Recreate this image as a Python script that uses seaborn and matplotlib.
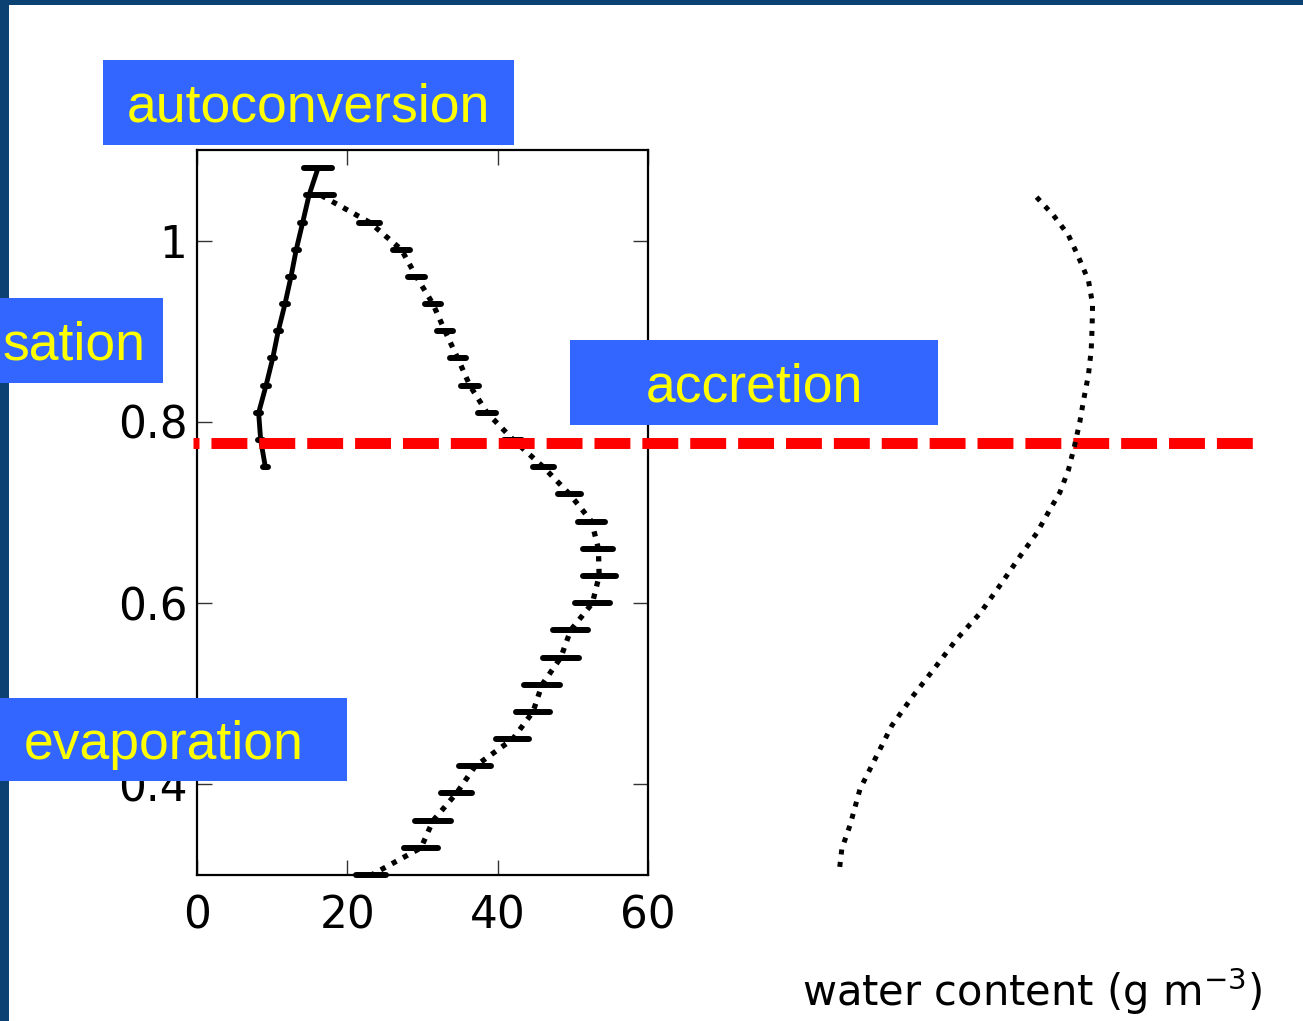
import matplotlib
matplotlib.use("Agg")
import matplotlib.pyplot as plt
from matplotlib.patches import Rectangle
import numpy as np
import pandas as pd
import seaborn as sns

# ---------------- data ----------------
# solid profile (height in km, value)
solid_height = [1.08, 1.05, 1.02, 0.99, 0.96, 0.93, 0.90, 0.87, 0.84, 0.81, 0.78, 0.75]
solid_value = [16.1, 14.9, 14.06, 13.2, 12.5, 11.7, 10.8, 10.07, 9.18, 8.2, 8.47, 9.1]
solid_err = [1.85, 0.35, 0.35, 0.35, 0.35, 0.35, 0.35, 0.35, 0.35, 0.35, 0.35, 0.35]

# dotted profile
dotted_height = [1.05, 1.02, 0.99, 0.96, 0.93, 0.90, 0.87, 0.84, 0.81, 0.78, 0.75,
                 0.72, 0.69, 0.66, 0.63, 0.60, 0.57, 0.54, 0.51, 0.48, 0.45, 0.42,
                 0.39, 0.36, 0.33, 0.30]
dotted_value = [16.5, 23.0, 27.2, 29.2, 31.4, 33.0, 34.7, 36.3, 38.6, 42.1, 46.1,
                49.6, 52.5, 53.4, 53.5, 52.6, 49.7, 48.4, 45.9, 44.7, 42.0, 37.0,
                34.5, 31.4, 29.8, 23.2]
dotted_err = [1.7, 1.4, 1.1, 1.1, 1.05, 1.1, 1.05, 1.2, 1.2, 1.2, 1.45,
              1.55, 1.8, 2.0, 2.2, 2.3, 2.3, 2.4, 2.4, 2.2, 2.2, 2.15,
              2.1, 2.4, 2.26, 2.0]

# water content profile (g m^-3)
wc_height = [1.048, 1.028, 1.006, 0.982, 0.956, 0.930, 0.904, 0.879, 0.852, 0.826,
             0.800, 0.775, 0.747, 0.722, 0.703, 0.677, 0.652, 0.622, 0.589, 0.560,
             0.529, 0.498, 0.465, 0.428, 0.395, 0.355, 0.329, 0.303]
wc_value = [0.509, 0.546, 0.579, 0.601, 0.623, 0.632, 0.631, 0.629, 0.623, 0.613,
            0.604, 0.593, 0.579, 0.560, 0.538, 0.509, 0.473, 0.432, 0.385, 0.333,
            0.286, 0.238, 0.191, 0.154, 0.121, 0.099, 0.081, 0.075]

cloud_base = 0.777

x_ticks = [0, 20, 40, 60]
x_ticklabels = ["0", "20", "40", "60"]
y_ticks = [0.4, 0.6, 0.8, 1.0]
y_ticklabels = ["0.4", "0.6", "0.8", "1"]

labels = ["autoconversion", "sation", "accretion", "evaporation"]
axis_label = "water content (g m$^{-3}$)"

# ---------------- figure ----------------
sns.set_theme(style="ticks")
plt.rcParams["font.family"] = ["DejaVu Sans"]
plt.rcParams["mathtext.fontset"] = "dejavusans"

W, H = 1303, 1021
fig = plt.figure(figsize=(W / 100, H / 100), dpi=100)
fig.patch.set_facecolor("white")

def fx(px):
    return px / W

def fy(py):
    return 1 - py / H

ax = fig.add_axes([fx(197), fy(875), fx(648) - fx(197), fy(150) - fy(875)])
ax2 = fig.add_axes([fx(805), fy(875), fx(1260) - fx(805), fy(150) - fy(875)])

df_s = pd.DataFrame({"h": solid_height, "v": solid_value})
df_d = pd.DataFrame({"h": dotted_height, "v": dotted_value})
df_w = pd.DataFrame({"h": wc_height, "v": wc_value})

sns.lineplot(data=df_s, x="v", y="h", sort=False, estimator=None, ax=ax,
             color="black", lw=3.5, linestyle="-")
sns.lineplot(data=df_d, x="v", y="h", sort=False, estimator=None, ax=ax,
             color="black", lw=3.8, linestyle=(0, (1, 1.4)))

for v, h, e in [(solid_value, solid_height, solid_err), (dotted_value, dotted_height, dotted_err)]:
    eb = ax.errorbar(v, h, xerr=e, fmt="none", ecolor="black", elinewidth=4.3,
                     capsize=0, clip_on=False)
    for lc in eb.lines[2]:
        lc.set_capstyle("round")
        lc.set_clip_on(False)

ax.axhline(cloud_base, xmin=(193 - 197) / 451, xmax=(1255 - 197) / 451,
           color="#ff0000", lw=7.9, linestyle=(30 / 11, (36 / 11, 12 / 11)),
           clip_on=False, zorder=5)

ax.set_xlim(0, 60)
ax.set_ylim(0.3, 1.1)
ax.set_xticks(x_ticks)
ax.set_xticklabels(x_ticklabels)
ax.set_yticks(y_ticks)
ax.set_yticklabels(y_ticklabels)
ax.set_xlabel("")
ax.set_ylabel("")
ax.tick_params(axis="both", direction="in", length=11, width=1.0, color="#333333",
               labelsize=31.5, top=True, right=True, labelcolor="black")
ax.tick_params(axis="x", pad=14)
ax.tick_params(axis="y", pad=7)
for sp in ax.spines.values():
    sp.set_visible(True)
    sp.set_linewidth(1.6)
    sp.set_color("black")

sns.lineplot(data=df_w, x="v", y="h", sort=False, estimator=None, ax=ax2,
             color="black", lw=3.6, linestyle=(0, (1, 1.5)))
ax2.set_xlim(0, 1)
ax2.set_ylim(0.3, 1.1)
ax2.axis("off")

# border
fig.patches.append(Rectangle((0, 0), fx(9), 1, transform=fig.transFigure,
                             facecolor="#0c4273", edgecolor="none", zorder=0.5))
fig.patches.append(Rectangle((0, fy(5)), 1, fy(0) - fy(5), transform=fig.transFigure,
                             facecolor="#0c4273", edgecolor="none", zorder=0.5))

# labelled boxes
box_color = "#3366ff"
boxes = [
    (103, 514, 60, 145),
    (0, 163, 298, 383),
    (570, 938, 340, 425),
    (0, 347, 698, 781),
]
text_pos = [
    (308.5, "center"),
    (2, "left"),
    (754.5, "center"),
    (24, "left"),
]
for (x0, x1, y0, y1), (tx, ha), lab in zip(boxes, text_pos, labels):
    fig.patches.append(Rectangle((fx(x0), fy(y1)), fx(x1) - fx(x0), fy(y0) - fy(y1),
                                 transform=fig.transFigure, facecolor=box_color,
                                 edgecolor="none", zorder=2))
    fig.text(fx(tx), fy((y0 + y1) / 2 + 5), lab, ha=ha, va="center", color="#ffff00",
             fontsize=38.5, family=["Liberation Sans", "DejaVu Sans"], zorder=3)

fig.text(fx(1032), fy(1006), axis_label, ha="center", va="baseline",
         fontsize=30, color="black")

fig.savefig("out.png", dpi=100, facecolor="white")
